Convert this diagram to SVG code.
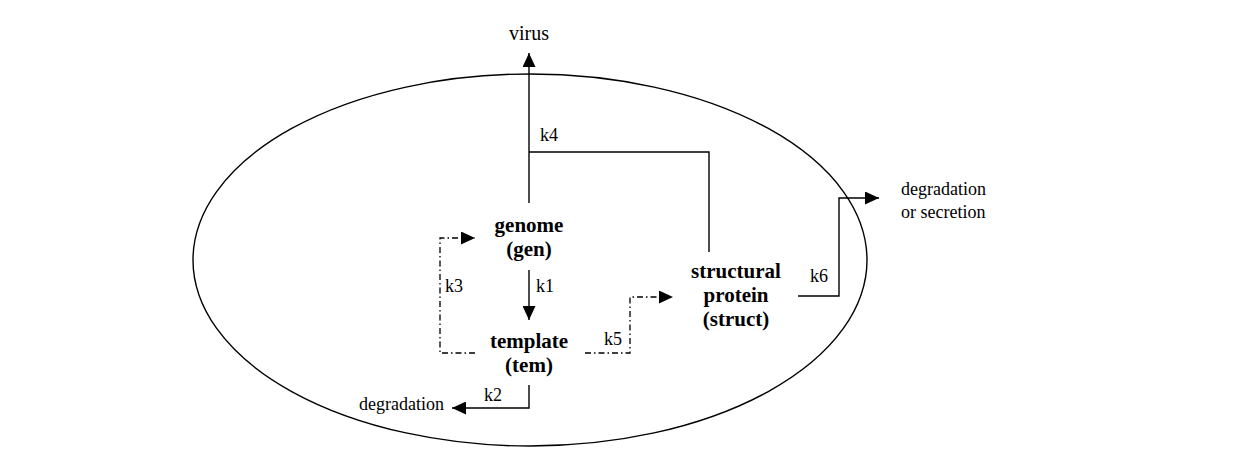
<svg xmlns="http://www.w3.org/2000/svg" width="1244" height="450" viewBox="0 0 1244 450" font-family="'Liberation Serif', 'Times New Roman', Times, serif">
<style>
text{font-family:'Liberation Serif','Times New Roman',Times,serif;fill:#000}
.lbl{font-size:18px}
.node{font-size:21px;font-weight:bold;text-anchor:middle}
.ln{fill:none;stroke:#000;stroke-width:1.4}
.dd{fill:none;stroke:#000;stroke-width:1.3;stroke-dasharray:6 3 1.5 3}
</style>
<defs>
<marker id="ah" viewBox="0 0 14 13" refX="14" refY="6.5" markerWidth="14" markerHeight="13" markerUnits="userSpaceOnUse" orient="auto">
<path d="M0,0 L14,6.5 L0,13 Z" fill="#000"/>
</marker>
</defs>
<rect width="1244" height="450" fill="#fff"/>
<ellipse id="cell" cx="530" cy="260" rx="337" ry="186" fill="none" stroke="#000" stroke-width="1.4"/>
<g id="connectors">
<path class="ln" d="M529,203 L529,53" stroke-width="2" marker-end="url(#ah)"/>
<path class="ln" d="M709,252 L709,152 L529,152"/>
<path class="ln" d="M529,270 L529,320" marker-end="url(#ah)"/>
<path class="ln" d="M529,385 L529,408 L452,408" marker-end="url(#ah)"/>
<path class="dd" d="M475,353 L440,353 L440,238 L475,238" marker-end="url(#ah)"/>
<path class="dd" d="M585,353 L630,353 L630,297 L673,297" marker-end="url(#ah)"/>
<path class="ln" d="M798,296 L839,296 L839,198 L879,198" marker-end="url(#ah)"/>
</g>
<g id="labels">
<text class="lbl" x="540" y="141">k4</text>
<text class="lbl" x="536" y="292">k1</text>
<text class="lbl" x="484" y="401">k2</text>
<text class="lbl" x="445" y="292">k3</text>
<text class="lbl" x="604" y="345">k5</text>
<text class="lbl" x="810" y="282">k6</text>
</g>
<g id="virus"><text x="529" y="40" font-size="20" text-anchor="middle">virus</text></g>
<g id="gen"><text class="node" x="529" y="232">genome</text><text class="node" x="529" y="256">(gen)</text></g>
<g id="tem"><text class="node" x="529" y="348">template</text><text class="node" x="529" y="372">(tem)</text></g>
<g id="struct"><text class="node" x="736" y="278">structural</text><text class="node" x="736" y="302">protein</text><text class="node" x="736" y="326">(struct)</text></g>
<g id="deg1"><text class="lbl" x="359" y="410">degradation</text></g>
<g id="deg2"><text class="lbl" x="901" y="195">degradation</text><text class="lbl" x="901" y="218">or secretion</text></g>
</svg>
